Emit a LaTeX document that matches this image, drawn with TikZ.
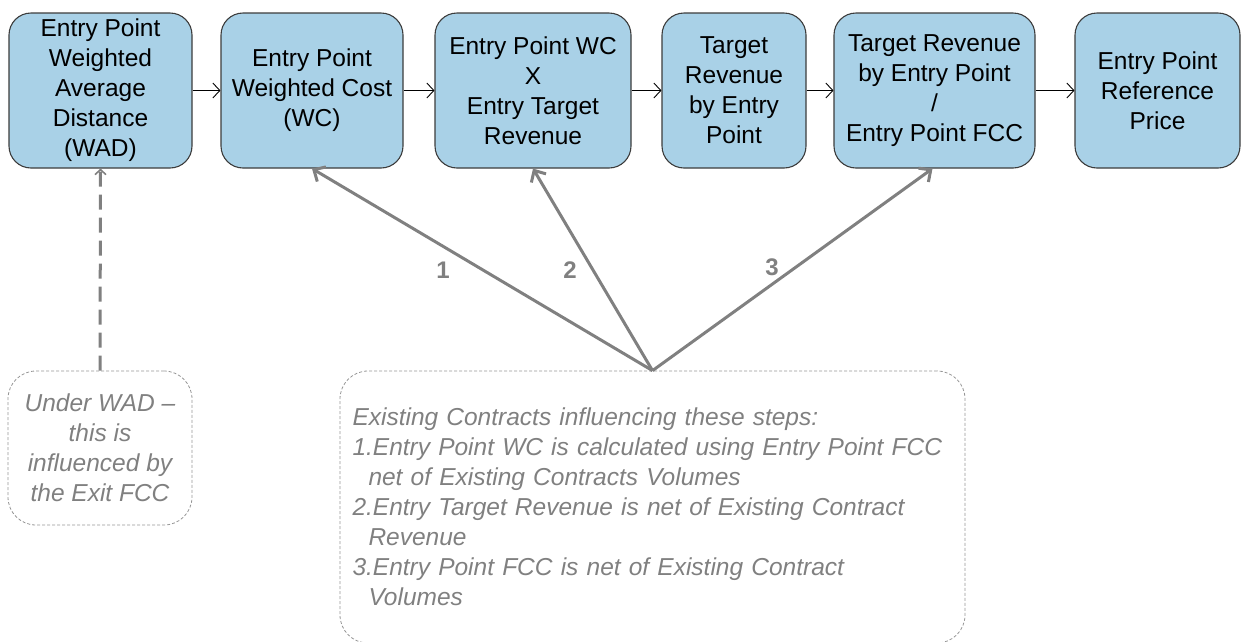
\documentclass[tikz,border=0pt]{standalone}
\usepackage{fontspec}
\setmainfont{Liberation Sans}
\usetikzlibrary{arrows.meta}
\definecolor{boxblue}{RGB}{169,209,231}
\definecolor{boxedge}{RGB}{60,60,60}
\definecolor{infgray}{RGB}{128,128,128}
\definecolor{dashgray}{RGB}{150,150,150}
\begin{document}
\begin{tikzpicture}[x=1pt,y=-1pt,
  stepbox/.style={draw=boxedge, line width=1.1pt, fill=boxblue, rounded corners=22pt,
    align=center, inner sep=0pt, minimum height=155pt,
    font=\fontsize{24.5}{30}\selectfont},
  notebox/.style={draw=dashgray, line width=0.8pt, dash pattern=on 3pt off 2pt,
    rounded corners=28pt, inner sep=0pt, text=infgray,
    font=\fontsize{24.5}{30}\selectfont\itshape},
  flow/.style={draw=black, line width=0.9pt, -{Straight Barb[length=7pt,width=15pt]}},
  infl/.style={draw=infgray, line width=3pt, -{Straight Barb[length=9pt,width=17pt]}},
  wadlink/.style={draw=infgray, line width=3pt, dash pattern=on 15pt off 8pt,
    -{Straight Barb[length=5pt,width=11pt,line width=1.6pt]}},
  numlabel/.style={text=infgray, font=\fontsize{24}{28}\selectfont\bfseries, inner sep=0pt}
]
\useasboundingbox (0,0) rectangle (1242,641);

% top flow boxes
\node[stepbox, minimum width=183pt] (b1) at (100.5,90.5) {Entry Point\\Weighted\\Average\\Distance\\(WAD)};
\node[stepbox, minimum width=182pt] (b2) at (312,90.5) {Entry Point\\Weighted Cost\\(WC)};
\node[stepbox, minimum width=196pt] (b3) at (533,90.5) {Entry Point WC\\X\\Entry Target\\Revenue};
\node[stepbox, minimum width=144pt] (b4) at (734,90.5) {Target\\Revenue\\by Entry\\Point};
\node[stepbox, minimum width=201pt] (b5) at (934.5,90.5) {Target Revenue\\by Entry Point\\/\\Entry Point FCC};
\node[stepbox, minimum width=165pt] (b6) at (1157.5,90.5) {Entry Point\\Reference\\Price};

\draw[flow] (b1) -- (b2);
\draw[flow] (b2) -- (b3);
\draw[flow] (b3) -- (b4);
\draw[flow] (b4) -- (b5);
\draw[flow] (b5) -- (b6);

% notes
\node[notebox, minimum width=184pt, minimum height=154pt, align=center] (wad) at (100,448)
  {Under WAD --\\this is\\influenced by\\the Exit FCC};

\node[notebox, minimum width=625pt, minimum height=272pt, inner xsep=12.5pt,
      text width=600pt, align=left] (ec) at (652.5,507)
  {Existing Contracts influencing these steps:\\
   1.Entry Point WC is calculated using Entry Point FCC\\
   \hspace*{16pt}net of Existing Contracts Volumes\\
   2.Entry Target Revenue is net of Existing Contract\\
   \hspace*{16pt}Revenue\\
   3.Entry Point FCC is net of Existing Contract\\
   \hspace*{16pt}Volumes};

% influence arrows
\draw[wadlink] (wad.north) -- (b1.south);
\draw[infl] (ec.north) -- (b2.south);
\draw[infl] (ec.north) -- (b3.south);
\draw[infl] (ec.north) -- ([xshift=-2pt]b5.south);

\node[numlabel] (l1) at (443,270) {1};
\node[numlabel] (l2) at (570,270) {2};
\node[numlabel] (l3) at (772,267) {3};
\end{tikzpicture}
\end{document}
